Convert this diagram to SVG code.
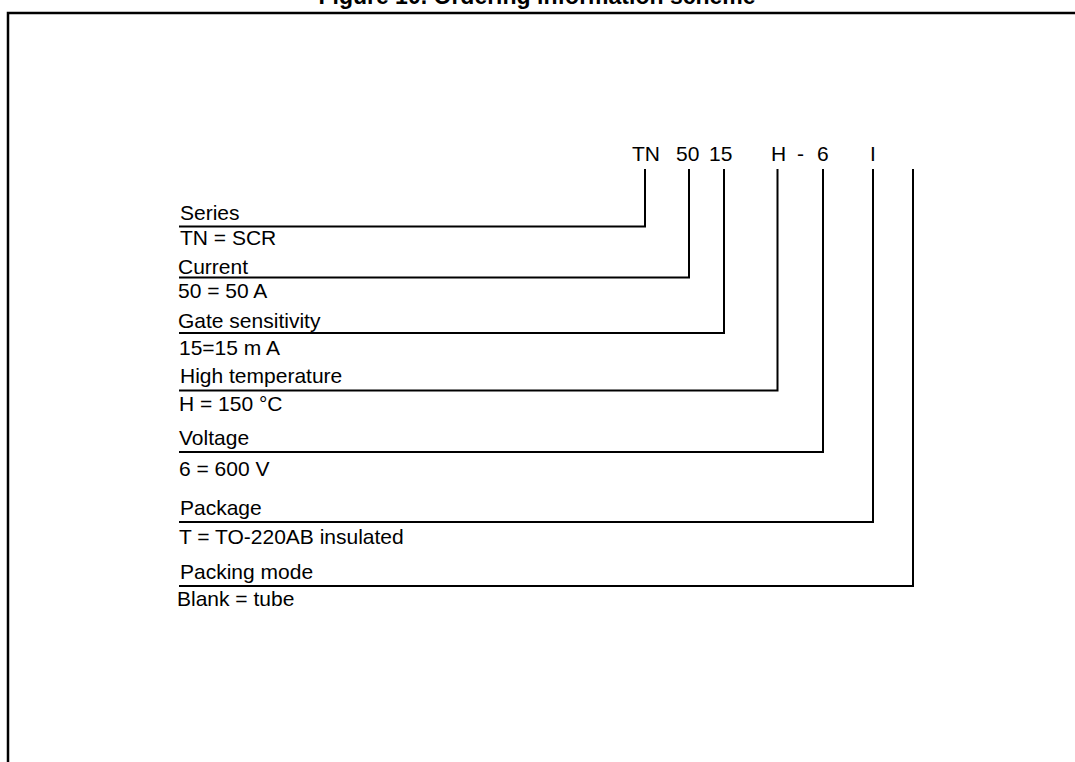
<svg xmlns="http://www.w3.org/2000/svg" width="1075" height="762" viewBox="0 0 1075 762">
<style>
.t{font-family:"Liberation Sans",Arial,sans-serif;font-size:21px;fill:#000}
.c{font-family:"Liberation Sans",Arial,sans-serif;font-size:21px;fill:#000}
.title{font-family:"Liberation Sans",Arial,sans-serif;font-size:23px;font-weight:bold;fill:#000}
.ln{fill:none;stroke:#000;stroke-width:2}
</style>
<rect width="1075" height="762" fill="#fff"/>
<text class="title" x="537" y="4" text-anchor="middle">Figure 10. Ordering information scheme</text>
<path d="M8,762 V13 H1075" fill="none" stroke="#000" stroke-width="2.5"/>
<g id="code">
<text class="c" x="632" y="161">TN</text>
<text class="c" x="676" y="161">50</text>
<text class="c" x="709" y="161">15</text>
<text class="c" x="771" y="161">H</text>
<text class="c" x="797" y="161">-</text>
<text class="c" x="817" y="161">6</text>
<text class="c" x="870" y="161">I</text>
</g>
<g id="connectors">
<path class="ln" d="M645,169 V226.5 H179"/>
<path class="ln" d="M689,169 V277.5 H179"/>
<path class="ln" d="M724,169 V333 H179"/>
<path class="ln" d="M777.5,169 V390.5 H179"/>
<path class="ln" d="M823,169 V452 H179"/>
<path class="ln" d="M873,169 V522 H179"/>
<path class="ln" d="M913,169 V586 H179"/>
</g>
<g id="series"><text class="t" x="180" y="220">Series</text><text class="t" x="180" y="245">TN = SCR</text></g>
<g id="current"><text class="t" x="178" y="274">Current</text><text class="t" x="178" y="298">50 = 50 A</text></g>
<g id="gate"><text class="t" x="178" y="328">Gate sensitivity</text><text class="t" x="179" y="355">15=15 m A</text></g>
<g id="hightemp"><text class="t" x="180" y="383">High temperature</text><text class="t" x="179" y="411">H = 150 °C</text></g>
<g id="voltage"><text class="t" x="179" y="445">Voltage</text><text class="t" x="179" y="476">6 = 600 V</text></g>
<g id="package"><text class="t" x="180" y="515">Package</text><text class="t" x="179" y="544">T = TO-220AB insulated</text></g>
<g id="packing"><text class="t" x="180" y="579">Packing mode</text><text class="t" x="177" y="606">Blank = tube</text></g>
</svg>
